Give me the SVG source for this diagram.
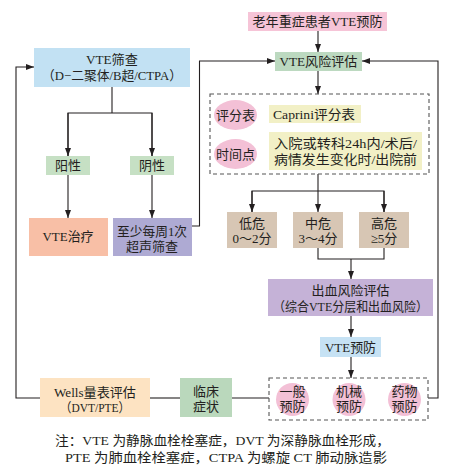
<svg xmlns="http://www.w3.org/2000/svg" width="457" height="471" viewBox="0 0 457 471">
<defs>
<marker id="arr" markerUnits="userSpaceOnUse" markerWidth="8" markerHeight="6" refX="8" refY="3" orient="auto">
<path d="M0,0 L8,3 L0,6 z" fill="#231f20"/>
</marker>
<style>
text{font-family:"Liberation Serif","Noto Sans CJK SC",serif;font-size:13px;fill:#231f20;text-anchor:middle}
.ln{fill:none;stroke:#231f20;stroke-width:1.1}
.dash{fill:none;stroke:#555;stroke-width:1.1;stroke-dasharray:4 3}
.note{font-size:13px}
</style>
</defs>
<rect width="457" height="471" fill="#fff"/>

<g id="connectors">
<polyline class="ln" points="40,398 16,398 16,67 34,67" marker-end="url(#arr)"/>
<polyline class="ln" points="112,87 112,113"/>
<polyline class="ln" points="68,156 68,113 152,113 152,156"/>
<line class="ln" x1="68" y1="113" x2="68" y2="156" marker-end="url(#arr)"/>
<line class="ln" x1="152" y1="113" x2="152" y2="156" marker-end="url(#arr)"/>
<line class="ln" x1="68" y1="175" x2="68" y2="218" marker-end="url(#arr)"/>
<line class="ln" x1="152" y1="175" x2="152" y2="218" marker-end="url(#arr)"/>
<polyline class="ln" points="192,226 199.5,226 199.5,61 275,61" marker-end="url(#arr)"/>
<line class="ln" x1="318" y1="31" x2="318" y2="52" marker-end="url(#arr)"/>
<line class="ln" x1="318" y1="71" x2="318" y2="94" marker-end="url(#arr)"/>
<polyline class="ln" points="318,174 318,191"/>
<polyline class="ln" points="252,212 252,191 384,191 384,212"/>
<line class="ln" x1="252" y1="191" x2="252" y2="212" marker-end="url(#arr)"/>
<line class="ln" x1="318" y1="191" x2="318" y2="212" marker-end="url(#arr)"/>
<line class="ln" x1="384" y1="191" x2="384" y2="212" marker-end="url(#arr)"/>
<polyline class="ln" points="318,248 318,259 384,259 384,248"/>
<line class="ln" x1="351" y1="259" x2="351" y2="279" marker-end="url(#arr)"/>
<line class="ln" x1="351" y1="316" x2="351" y2="337" marker-end="url(#arr)"/>
<line class="ln" x1="351" y1="357" x2="351" y2="378" marker-end="url(#arr)"/>
<polyline class="ln" points="428,398 438,398 438,61 362,61" marker-end="url(#arr)"/>
<line class="ln" x1="150" y1="398" x2="180" y2="398"/>
<line class="ln" x1="232" y1="398" x2="269" y2="398"/>
</g>

<g id="n-screen">
<rect x="34" y="48" width="156" height="39" fill="#c2e1f3"/>
<text x="112" y="64" textLength="52" lengthAdjust="spacingAndGlyphs">VTE筛查</text>
<text x="112" y="80" textLength="140" lengthAdjust="spacingAndGlyphs">（D−二聚体/B超/CTPA）</text>
</g>
<g id="n-pos">
<rect x="46" y="156" width="44" height="19" fill="#c6e0c4"/>
<text x="68" y="170">阳性</text>
</g>
<g id="n-neg">
<rect x="130" y="156" width="44" height="19" fill="#c6e0c4"/>
<text x="152" y="170">阴性</text>
</g>
<g id="n-treat">
<rect x="29" y="218" width="79" height="38" fill="#f8bfa6"/>
<text x="68" y="241" textLength="51" lengthAdjust="spacingAndGlyphs">VTE治疗</text>
</g>
<g id="n-weekly">
<rect x="113" y="218" width="79" height="38" fill="#aeaad3"/>
<text x="152" y="236" textLength="70" lengthAdjust="spacingAndGlyphs">至少每周1次</text>
<text x="152" y="251">超声筛查</text>
</g>
<g id="n-top">
<rect x="248" y="12" width="139" height="19" fill="#f6c4d7"/>
<text x="317.5" y="26" textLength="130" lengthAdjust="spacingAndGlyphs">老年重症患者VTE预防</text>
</g>
<g id="n-risk">
<rect x="275" y="52" width="87" height="19" fill="#bcd9c0"/>
<text x="318.5" y="66" textLength="78" lengthAdjust="spacingAndGlyphs">VTE风险评估</text>
</g>
<g id="n-assess">
<rect class="dash" x="210" y="94" width="219" height="80"/>
<ellipse cx="235.5" cy="115" rx="21.5" ry="15" fill="#f3c0d6"/>
<text x="235.5" y="120">评分表</text>
<rect x="269" y="105" width="92" height="18" fill="#f2f0c6"/>
<text x="314" y="119" textLength="82" lengthAdjust="spacingAndGlyphs">Caprini评分表</text>
<ellipse cx="235.5" cy="154" rx="21.5" ry="15" fill="#f3c0d6"/>
<text x="235.5" y="159">时间点</text>
<rect x="269" y="132" width="153" height="38" fill="#f2f0c6"/>
<text x="345.5" y="148" textLength="143" lengthAdjust="spacingAndGlyphs">入院或转科24h内/术后/</text>
<text x="345.5" y="164" textLength="143" lengthAdjust="spacingAndGlyphs">病情发生变化时/出院前</text>
</g>
<g id="n-low">
<rect x="227" y="212" width="50" height="36" fill="#d7c6b4"/>
<text x="252" y="228">低危</text>
<text x="252" y="243">0～2分</text>
</g>
<g id="n-mid">
<rect x="293" y="212" width="50" height="36" fill="#d7c6b4"/>
<text x="318" y="228">中危</text>
<text x="318" y="243">3～4分</text>
</g>
<g id="n-high">
<rect x="359" y="212" width="50" height="36" fill="#d7c6b4"/>
<text x="384" y="228">高危</text>
<text x="384" y="243">≥5分</text>
</g>
<g id="n-bleed">
<rect x="268" y="279" width="165" height="37" fill="#c5b2d7"/>
<text x="350.5" y="295">出血风险评估</text>
<text x="350.5" y="311" textLength="155" lengthAdjust="spacingAndGlyphs">（综合VTE分层和出血风险）</text>
</g>
<g id="n-prev">
<rect x="320" y="337" width="61" height="20" fill="#c6e2f4"/>
<text x="350.5" y="352" textLength="51" lengthAdjust="spacingAndGlyphs">VTE预防</text>
</g>
<g id="n-wells">
<rect x="40" y="378" width="110" height="39" fill="#fde3c2"/>
<text x="95" y="397" textLength="82" lengthAdjust="spacingAndGlyphs">Wells量表评估</text>
<text x="95" y="412" textLength="70" lengthAdjust="spacingAndGlyphs">（DVT/PTE）</text>
</g>
<g id="n-clin">
<rect x="180" y="378" width="52" height="39" fill="#bad8bc"/>
<text x="206" y="396">临床</text>
<text x="206" y="411">症状</text>
</g>
<g id="n-methods">
<rect class="dash" x="269" y="378" width="159" height="42"/>
<circle cx="292.5" cy="399.5" r="16.5" fill="#f3c0d6"/>
<text x="292.5" y="396">一般</text>
<text x="292.5" y="411">预防</text>
<circle cx="349" cy="399.5" r="16.5" fill="#f3c0d6"/>
<text x="349" y="396">机械</text>
<text x="349" y="411">预防</text>
<circle cx="404.5" cy="399.5" r="16.5" fill="#f3c0d6"/>
<text x="404.5" y="396">药物</text>
<text x="404.5" y="411">预防</text>
</g>
<g id="note">
<text class="note" x="222.5" y="445" textLength="335" lengthAdjust="spacingAndGlyphs">注：VTE 为静脉血栓栓塞症，DVT 为深静脉血栓形成，</text>
<text class="note" x="226" y="462" textLength="322" lengthAdjust="spacingAndGlyphs">PTE 为肺血栓栓塞症，CTPA 为螺旋 CT 肺动脉造影</text>
</g>
</svg>
